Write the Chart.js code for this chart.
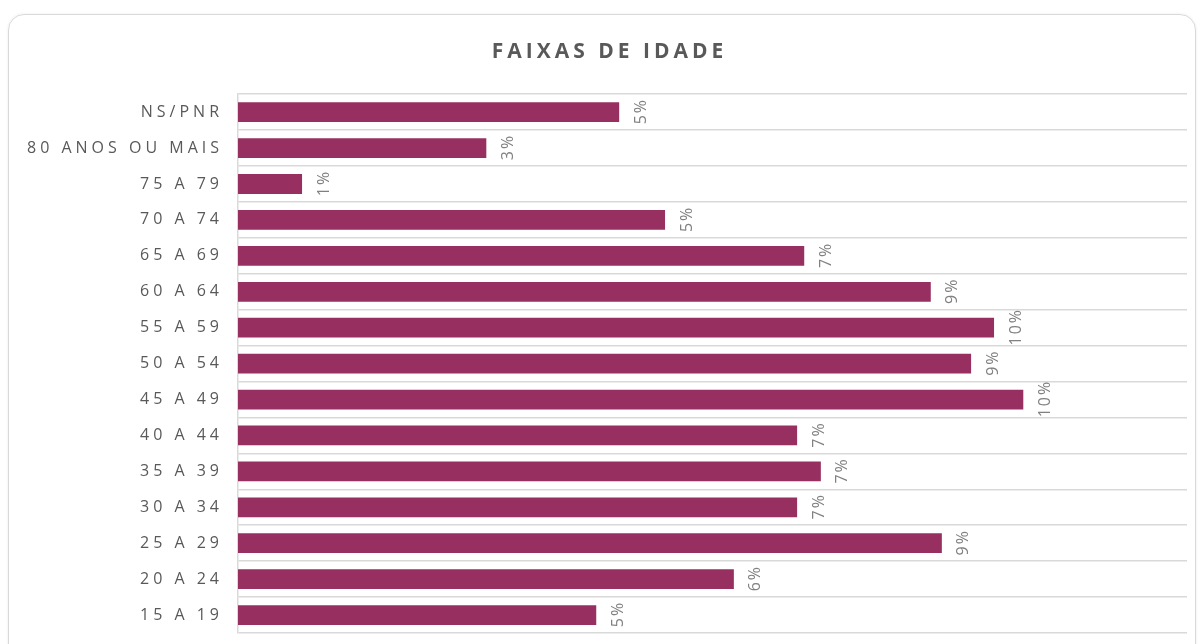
<!DOCTYPE html>
<html lang="pt">
<head>
<meta charset="utf-8">
<title>Faixas de idade</title>
<script src="https://cdn.jsdelivr.net/npm/chart.js@4.4.1/dist/chart.umd.min.js"></script>
<style>
  html, body { margin: 0; padding: 0; background: #fff; overflow: hidden; }
  .cartao {
    position: absolute; left: 8px; top: 14px; width: 1186px; height: 700px;
    border: 1px solid #d9d9d9; border-radius: 16px;
    box-shadow: 0 0 3px rgba(0, 0, 0, 0.08);
  }
  #grafico { position: absolute; left: 0; top: 0; }
</style>
</head>
<body>
<div class="cartao"></div>
<canvas id="grafico" width="1198" height="644"></canvas>
<script>
// faixas etarias, de cima para baixo
const faixas = [
    "NS/PNR", "80 ANOS OU MAIS", "75 A 79", "70 A 74", "65 A 69",
    "60 A 64", "55 A 59", "50 A 54", "45 A 49", "40 A 44",
    "35 A 39", "30 A 34", "25 A 29", "20 A 24", "15 A 19"
];
// percentual de cada faixa
const percentuais = [4.82, 3.14, 0.81, 5.40, 7.16, 8.76, 9.56, 9.27, 9.93, 7.07, 7.37, 7.07, 8.90, 6.27, 4.53];
const eixoMax = 12;

const corBarra = "#973061";
const corCinza = "#595959";

Chart.defaults.font.family = "'Open Sans', sans-serif";

// espacamento entre letras (titulo e rotulos do eixo)
const espacamento = {
    id: "espacamento",
    beforeUpdate(chart) { chart.ctx.letterSpacing = "4px"; },
    afterLayout(chart) {
        // centraliza o titulo no cartao
        if (chart.titleBlock) chart.titleBlock.left = 32;
    },
    beforeDraw(chart) { chart.ctx.letterSpacing = "4px"; }
};

// rotulos de valor girados ao lado de cada barra
const rotulosValor = {
    id: "rotulosValor",
    afterDatasetsDraw(chart) {
        const c = chart.ctx;
        const meta = chart.getDatasetMeta(0);
        c.save();
        c.letterSpacing = "2px";
        c.font = "16px 'Open Sans', sans-serif";
        c.fillStyle = "#808080";
        c.textAlign = "center";
        c.textBaseline = "middle";
        meta.data.forEach((bar, i) => {
            c.save();
            c.translate(bar.x + 22, bar.y);
            c.rotate(-Math.PI / 2);
            c.fillText(Math.round(percentuais[i]) + "%", 1, 0);
            c.restore();
        });
        c.restore();
    }
};

const ctx = document.getElementById("grafico");
const grafico = new Chart(ctx, {
    type: "bar",
    data: {
        labels: faixas,
        datasets: [{
            label: "Faixas de idade",
            data: percentuais,
            backgroundColor: corBarra,
            borderWidth: 0,
            categoryPercentage: 1,
            barPercentage: 0.55
        }]
    },
    options: {
        indexAxis: "y",
        responsive: false,
        animation: false,
        devicePixelRatio: 1,
        layout: { padding: { left: 0, right: 11, top: 0, bottom: 11 } },
        scales: {
            x: {
                display: false,
                min: 0,
                max: eixoMax
            },
            y: {
                afterFit: function(scale) {
                    scale.width = 238;
                    scale.paddingTop = 0;
                    scale.paddingBottom = 0;
                },
                grid: { color: "#d9d9d9", lineWidth: 1.5, drawTicks: false },
                border: { color: "#d9d9d9", width: 1.5 },
                ticks: {
                    color: corCinza,
                    padding: 15,
                    font: { size: 16 }
                }
            }
        },
        plugins: {
            legend: { display: false },
            tooltip: { enabled: false },
            title: {
                display: true,
                text: "FAIXAS DE IDADE",
                color: corCinza,
                font: { size: 21, weight: "bold" },
                padding: { top: 39, bottom: 30 }
            }
        }
    },
    plugins: [espacamento, rotulosValor]
});
</script>
</body>
</html>
